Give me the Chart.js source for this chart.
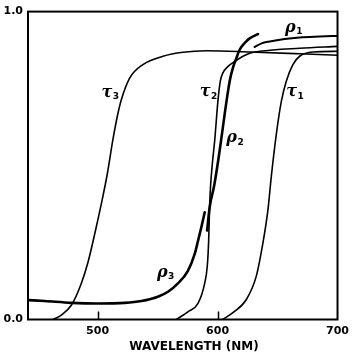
<!DOCTYPE html>
<html>
<head>
<meta charset="utf-8">
<script src="https://cdn.jsdelivr.net/npm/chart.js@4"></script>
<style>
  html, body { margin: 0; padding: 0; background: #fff; }
  #c { display: block; }
</style>
</head>
<body>
<canvas id="c" width="354" height="356"></canvas>
<script>
// ---- data (wavelength in nm, value 0..1) ----
const xTicks = [500, 600, 700];
const yTicks = [0, 1];
const xTitle = 'WAVELENGTH (NM)';

const tau1Wl  = [604.2, 612.8, 624, 632.3, 637.8, 642, 644.8, 649, 653.2, 657.3, 662.8, 668.4, 679.5, 700];
const tau1Val = [0, 0.022, 0.065, 0.141, 0.248, 0.356, 0.464, 0.602, 0.709, 0.774, 0.828, 0.855, 0.869, 0.871];

const tau2Wl  = [565.7, 575.3, 583.7, 589.3, 591.5, 592.6, 593.4, 594.2, 595.9, 597.6, 600.3, 602.3, 604.5, 608.7, 614.3, 621.2, 626.8, 635.1, 668.4, 700];
const tau2Val = [0, 0.025, 0.052, 0.118, 0.176, 0.257, 0.370, 0.435, 0.516, 0.580, 0.709, 0.774, 0.801, 0.822, 0.838, 0.855, 0.865, 0.871, 0.881, 0.887];

const tau3Wl  = [462.8, 469.8, 478.2, 486.5, 492, 499, 503.2, 508.2, 512.8, 517, 519.8, 526.75, 537.8, 554.5, 571.2, 590.7, 626.75, 668.4, 700];
const tau3Val = [0, 0.0145, 0.047, 0.118, 0.186, 0.302, 0.377, 0.475, 0.585, 0.670, 0.714, 0.784, 0.828, 0.855, 0.868, 0.873, 0.869, 0.863, 0.858];

const rho1Wl  = [630.9, 636.75, 643.4, 655.9, 668.4, 685.1, 700];
const rho1Val = [0.885, 0.897, 0.903, 0.911, 0.916, 0.919, 0.921];

const rho2Wl  = [591.3, 593.4, 597.2, 601.75, 605.9, 610.1, 612.8, 615.7, 618.4, 622.6, 626.75, 633.7];
const rho2Val = [0.289, 0.364, 0.435, 0.548, 0.666, 0.774, 0.817, 0.849, 0.876, 0.898, 0.913, 0.927];

const rho3Wl  = [442, 455.9, 478.2, 500.3, 522.6, 536.5, 550.3, 558.7, 567, 575.3, 580.9, 583.7, 586.8, 589.3];
const rho3Val = [0.063, 0.060, 0.054, 0.052, 0.054, 0.060, 0.074, 0.090, 0.117, 0.158, 0.212, 0.255, 0.305, 0.348];

// curve labels: Greek letter + subscript, anchored (left, baseline) at data coords
const labelLetters = ['τ', 'τ', 'τ', 'ρ', 'ρ', 'ρ'];
const labelSubs    = ['1', '2', '3', '1', '2', '3'];
const labelWl      = [657.3, 585.1, 503.2, 656.3, 607.3, 549.5];
const labelVal     = [0.725, 0.725, 0.724, 0.934, 0.575, 0.139];

function pts(wl, val) { return wl.map((w, i) => ({ x: w, y: val[i] })); }

function ds(label, wl, val, width) {
  return {
    label, data: pts(wl, val), showLine: true, pointRadius: 0,
    borderColor: '#000', borderWidth: width, fill: false,
    cubicInterpolationMode: 'monotone', borderCapStyle: 'round', borderJoinStyle: 'round'
  };
}

const decor = {
  id: 'decor',
  afterDraw(chart) {
    const { ctx, chartArea: a, scales: { x, y } } = chart;
    ctx.save();
    // frame
    ctx.strokeStyle = '#000';
    ctx.lineWidth = 2;
    ctx.strokeRect(a.left, a.top, a.right - a.left, a.bottom - a.top);
    // inward tick marks on the x axis
    ctx.lineWidth = 1.5;
    xTicks.forEach(v => {
      const px = Math.round(x.getPixelForValue(v)) + 0.5;
      if (px > a.left + 2 && px < a.right - 2) {
        ctx.beginPath();
        ctx.moveTo(px, a.bottom);
        ctx.lineTo(px, a.bottom - 8);
        ctx.stroke();
      }
    });
    // curve labels
    ctx.fillStyle = '#000';
    ctx.textBaseline = 'alphabetic';
    ctx.textAlign = 'left';
    labelLetters.forEach((g, i) => {
      const px = x.getPixelForValue(labelWl[i]);
      const py = y.getPixelForValue(labelVal[i]);
      ctx.font = 'italic bold 16px "DejaVu Serif"';
      ctx.fillText(g, px, py);
      const w = ctx.measureText(g).width;
      ctx.font = 'bold 9px "DejaVu Sans"';
      ctx.fillText(labelSubs[i], px + w + 0.5, py + 2.5);
    });
    // axis title
    ctx.font = 'bold 12px "DejaVu Sans"';
    ctx.textAlign = 'center';
    ctx.textBaseline = 'alphabetic';
    ctx.fillText(xTitle, 194, 349.5);
    ctx.restore();
  }
};

const tickFont = { family: 'DejaVu Sans', weight: 'bold', size: 11 };

new Chart(document.getElementById('c'), {
  type: 'scatter',
  data: {
    datasets: [
      ds('τ1', tau1Wl, tau1Val, 1.6),
      ds('τ2', tau2Wl, tau2Val, 1.6),
      ds('τ3', tau3Wl, tau3Val, 1.6),
      ds('ρ1', rho1Wl, rho1Val, 2.0),
      ds('ρ2', rho2Wl, rho2Val, 2.6),
      ds('ρ3', rho3Wl, rho3Val, 2.6)
    ]
  },
  options: {
    responsive: false,
    animation: false,
    devicePixelRatio: 1,
    layout: { padding: { top: 10, right: 16, left: 0, bottom: 0 } },
    plugins: { legend: { display: false }, tooltip: { enabled: false } },
    scales: {
      x: {
        type: 'linear', min: 442, max: 700,
        afterBuildTicks: s => { s.ticks = xTicks.map(v => ({ value: v })); },
        afterFit: s => { s.height = 36.5; },
        grid: { display: false, drawTicks: false },
        border: { display: false },
        ticks: { color: '#000', font: tickFont, padding: 5, maxRotation: 0, autoSkip: false }
      },
      y: {
        type: 'linear', min: 0, max: 1,
        afterBuildTicks: s => { s.ticks = yTicks.map(v => ({ value: v })); },
        afterFit: s => { s.width = 28; },
        grid: { display: false, drawTicks: false },
        border: { display: false },
        ticks: { color: '#000', font: tickFont, padding: 5, callback: v => Number(v).toFixed(1) }
      }
    }
  },
  plugins: [decor]
});
</script>
</body>
</html>
